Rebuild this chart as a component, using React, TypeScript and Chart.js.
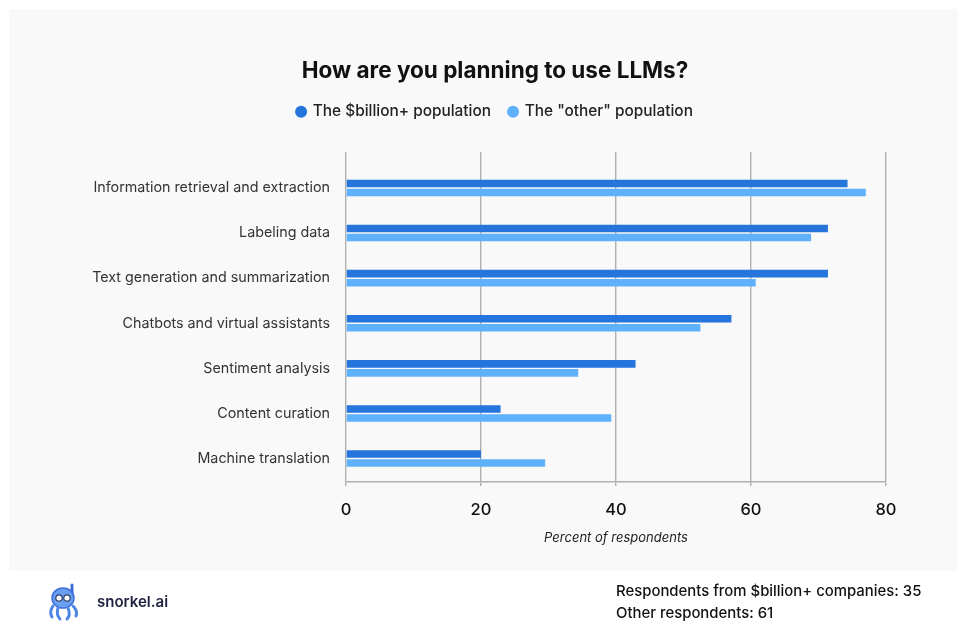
import React, { useEffect, useRef } from 'react';
import { Chart, registerables } from 'chart.js';

Chart.register(...registerables);

const categories = [
  'Information retrieval and extraction',
  'Labeling data',
  'Text generation and summarization',
  'Chatbots and virtual assistants',
  'Sentiment analysis',
  'Content curation',
  'Machine translation',
];
const billionValues = [74.3, 71.4, 71.4, 57.1, 42.9, 22.9, 20.0];
const otherValues = [77.0, 68.9, 60.7, 52.5, 34.4, 39.3, 29.5];
const seriesNames = ['The $billion+ population', 'The "other" population'];
const seriesColors = ['#2675dc', '#5fb1fb'];
const chartTitle = 'How are you planning to use LLMs?';
const xAxisTitle = 'Percent of respondents';
const xMin = 0;
const xMax = 80;
const xStep = 20;
const footerLines = ['Respondents from $billion+ companies: 35', 'Other respondents: 61'];
const brand = 'snorkel.ai';

const FONT = 'Inter, "Open Sans", sans-serif';

function ChartCanvas() {
  const ref = useRef<HTMLCanvasElement | null>(null);
  useEffect(() => {
    if (!ref.current) return;
    const chart = new Chart(ref.current, {
      type: 'bar',
      data: {
        datasets: [
          {
            label: seriesNames[0],
            data: billionValues.map((v, i) => ({ x: v, y: i })),
            backgroundColor: seriesColors[0],
            categoryPercentage: 0.4,
            barPercentage: 0.84,
          },
          {
            label: seriesNames[1],
            data: otherValues.map((v, i) => ({ x: v, y: i })),
            backgroundColor: seriesColors[1],
            categoryPercentage: 0.4,
            barPercentage: 0.84,
          },
        ],
      },
      options: {
        indexAxis: 'y',
        responsive: false,
        animation: false,
        devicePixelRatio: 1,
        layout: { padding: { left: 30, right: 0, top: 0, bottom: 0 } },
        plugins: {
          tooltip: { enabled: false },
          title: {
            display: true,
            text: chartTitle,
            color: '#111111',
            font: { family: FONT, size: 22.5, weight: '700' },
            padding: { top: 58, bottom: 1 },
          },
          legend: {
            display: true,
            position: 'top',
            labels: {
              usePointStyle: true,
              pointStyle: 'circle',
              boxWidth: 8,
              boxHeight: 8.5,
              padding: 18,
              color: '#222222',
              font: { family: FONT, size: 15.4, weight: '500' },
            },
          },
        },
        scales: {
          x: {
            type: 'linear',
            position: 'bottom',
            min: xMin,
            max: xMax,
            ticks: {
              stepSize: xStep,
              color: '#111111',
              padding: 14,
              font: { family: FONT, size: 16.5, weight: '500' },
            },
            grid: { color: '#b0b0b0', lineWidth: 1.4, drawTicks: true, tickLength: 4 },
            border: { display: true, color: '#b0b0b0', width: 1.4 },
            title: {
              display: true,
              text: xAxisTitle,
              color: '#222222',
              font: { family: FONT, size: 13, style: 'italic' },
              padding: { top: 0, bottom: 76 },
            },
            afterFit: (s: any) => { s.height = 140; },
          },
          xTop: {
            type: 'linear',
            axis: 'x',
            position: 'top',
            display: true,
            grid: { display: false, drawTicks: false },
            border: { display: false },
            ticks: { display: false },
            afterFit: (s: any) => { s.height = 22.5; },
          },
          y: {
            type: 'linear',
            reverse: true,
            offset: false,
            min: -0.8,
            max: 6.52,
            grid: { display: false, drawTicks: false, offset: false },
            border: { display: false },
            ticks: {
              stepSize: 1,
              includeBounds: false,
              autoSkip: false,
              padding: 16,
              color: '#333333',
              font: { family: FONT, size: 14.3 },
              callback: (v: any) => (Number.isInteger(v) && categories[v as number] !== undefined ? categories[v as number] : ''),
            },
            afterFit: (s: any) => { s.width = 316; },
          },
          yRight: {
            type: 'linear',
            axis: 'y',
            position: 'right',
            display: true,
            grid: { display: false, drawTicks: false },
            border: { display: false },
            ticks: { display: false },
            afterFit: (s: any) => { s.width = 74; },
          },
        },
      } as any,
    });
    return () => chart.destroy();
  }, []);
  return <canvas ref={ref} width={960} height={622} style={{ position: 'absolute', left: 0, top: 0, width: 960, height: 622 }} />;
}

function Logo() {
  return (
    <svg width="38" height="40" viewBox="0 0 38 40" style={{ position: 'absolute', left: 46, top: 582 }}>
      <path d="M26 3 L26 16" stroke="#3e6fd8" strokeWidth="3" strokeLinecap="round" fill="none" />
      <ellipse cx="17" cy="16" rx="11" ry="10" fill="#6aa0f0" />
      <ellipse cx="17" cy="16" rx="11" ry="10" fill="none" stroke="#3e6fd8" strokeWidth="1.5" />
      <circle cx="13" cy="16" r="3.2" fill="#ffffff" stroke="#2b3a67" strokeWidth="1.2" />
      <circle cx="21" cy="16" r="3.2" fill="#ffffff" stroke="#2b3a67" strokeWidth="1.2" />
      <path d="M7 24 Q3 30 6 35 M12 26 Q10 33 14 37 M22 26 Q25 33 21 37 M27 24 Q32 29 30 34" stroke="#4f86e6" strokeWidth="3" strokeLinecap="round" fill="none" />
    </svg>
  );
}

export default function App() {
  return (
    <div style={{ position: 'absolute', left: 0, top: 0, width: 960, height: 622, background: '#ffffff', overflow: 'hidden' }}>
      <div style={{ position: 'absolute', left: 9, top: 9, width: 949, height: 562, background: '#f9f9f9' }} />
      <ChartCanvas />
      <Logo />
      <div style={{ position: 'absolute', left: 97, top: 592, fontFamily: FONT, fontSize: 15, fontWeight: 600, color: '#1f2140' }}>{brand}</div>
      <div style={{ position: 'absolute', left: 616, top: 580, fontFamily: FONT, fontSize: 14.9, fontWeight: 500, color: '#111111', lineHeight: '22px' }}>
        {footerLines.map((t) => (
          <div key={t}>{t}</div>
        ))}
      </div>
    </div>
  );
}
